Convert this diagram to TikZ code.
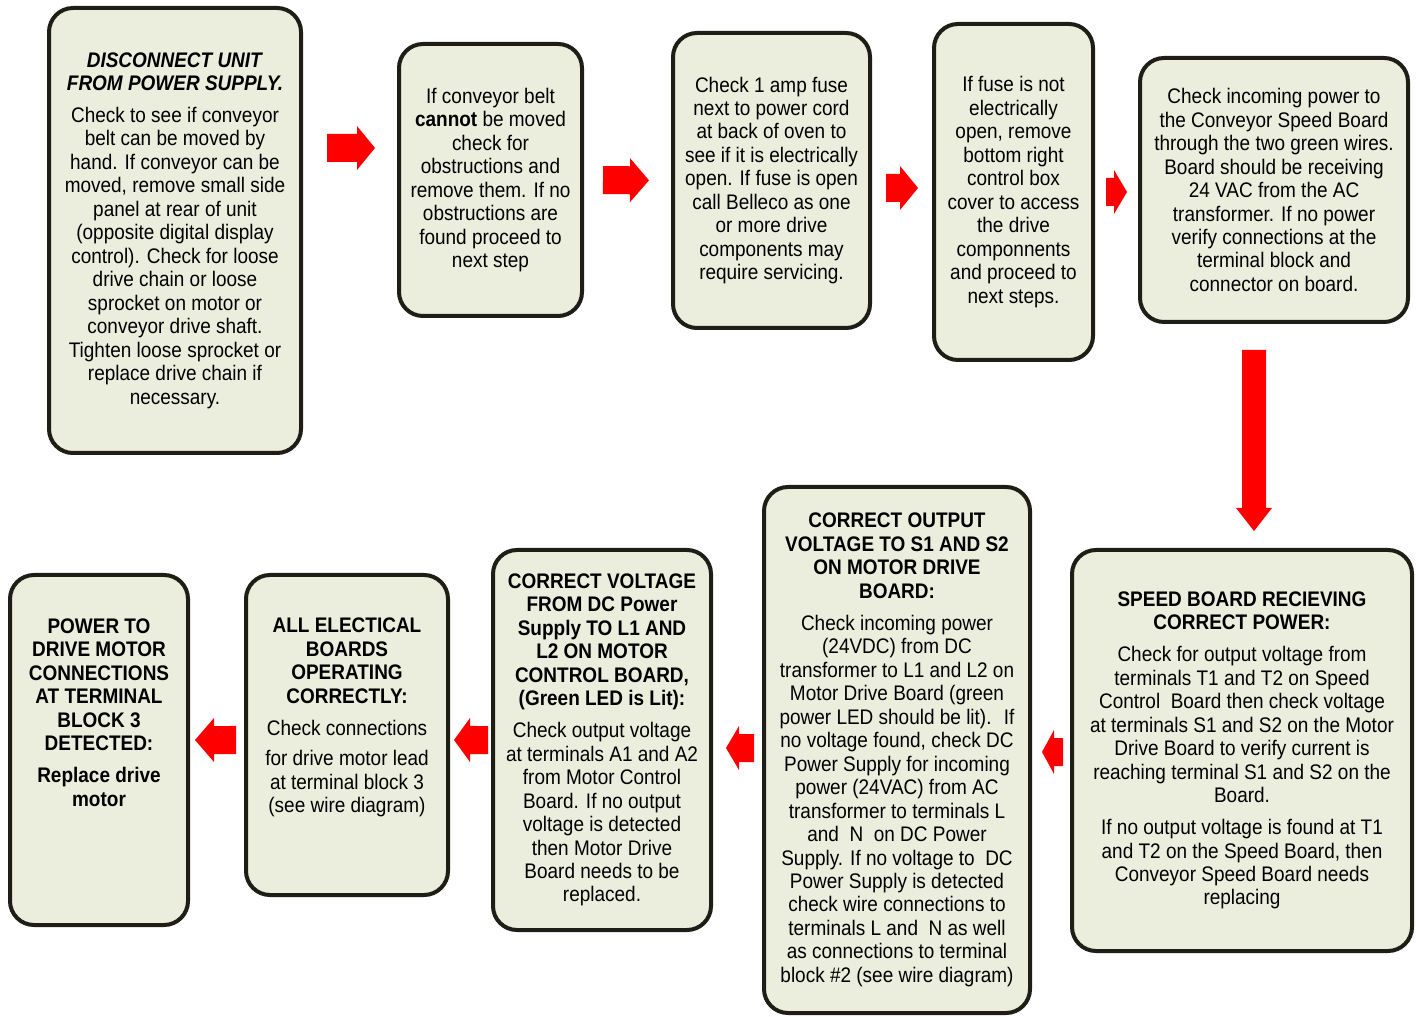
\documentclass[tikz,border=0pt]{standalone}
\usepackage{fontspec}
\setmainfont{Liberation Sans}[FakeStretch=0.9]
\usetikzlibrary{arrows.meta}

\definecolor{boxfill}{HTML}{EBEEDD}
\definecolor{boxline}{HTML}{1E1E16}

\tikzset{
    stepbox/.style={draw=boxline, fill=boxfill, line width=0.1cm, rounded corners=0.6cm,
        align=center, inner sep=0pt, font=\fontsize{15}{16.7}\selectfont},
    flow/.style={draw=red, line width=0.7cm, -{Triangle[width=1.1cm, length=#1, line width=0pt]}},
    flow/.default=0.45cm
}

\begin{document}
\begin{tikzpicture}
        \useasboundingbox (0,0) rectangle (35.4,25.4);

        % top row

        \node[stepbox, minimum width=6.3cm, minimum height=11.125cm] (b1) at (4.375,19.6375)
            {\textbf{\textit{DISCONNECT UNIT}}\\\textbf{\textit{FROM POWER SUPPLY.}}\\[6pt]
             Check to see if conveyor\\belt can be moved by\\hand. If conveyor can be\\moved, remove small side\\panel at rear of unit\\(opposite digital display\\control). Check for loose\\drive chain or loose\\sprocket on motor or\\conveyor drive shaft.\\Tighten loose sprocket or\\replace drive chain if\\necessary.};
        \node[stepbox, minimum width=4.575cm, minimum height=6.8cm] (b2) at (12.2625,20.9)
            {If conveyor belt\\\textbf{cannot} be moved\\check for\\obstructions and\\remove them. If no\\obstructions are\\found proceed to\\next step};
        \node[stepbox, minimum width=4.925cm, minimum height=7.375cm] (b3) at (19.2875,20.8875)
            {Check 1 amp fuse\\next to power cord\\at back of oven to\\see if it is electrically\\open. If fuse is open\\call Belleco as one\\or more drive\\components may\\require servicing.};
        \node[stepbox, minimum width=3.975cm, minimum height=8.4cm] (b4) at (25.3375,20.6)
            {If fuse is not\\electrically\\open, remove\\bottom right\\control box\\cover to access\\the drive\\componnents\\and proceed to\\next steps.};
        \node[stepbox, minimum width=6.7cm, minimum height=6.6cm] (b5) at (31.85,20.65)
            {Check incoming power to\\the Conveyor Speed Board\\through the two green wires.\\Board should be receiving\\24 VAC from the AC\\transformer. If no power\\verify connections at the\\terminal block and\\connector on board.};

        % bottom row

        \node[stepbox, minimum width=8.5cm, minimum height=10.025cm] (b6) at (31.05,6.6375)
            {\textbf{SPEED BOARD RECIEVING}\\\textbf{CORRECT POWER:}\\[6pt]
             Check for output voltage from\\terminals T1 and T2 on Speed\\Control~ Board then check voltage\\at terminals S1 and S2 on the Motor\\Drive Board to verify current is\\reaching terminal S1 and S2 on the\\Board.\\[6pt]
             If no output voltage is found at T1\\and T2 on the Speed Board, then\\Conveyor Speed Board needs\\replacing};
        \node[stepbox, minimum width=6.65cm, minimum height=13.15cm] (b7) at (22.425,6.65)
            {\textbf{CORRECT OUTPUT}\\\textbf{VOLTAGE TO S1 AND S2}\\\textbf{ON MOTOR DRIVE}\\\textbf{BOARD:}\\[6pt]
             Check incoming power\\(24VDC) from DC\\transformer to L1 and L2 on\\Motor Drive Board (green\\power LED should be lit).~ If\\no voltage found, check DC\\Power Supply for incoming\\power (24VAC) from AC\\transformer to terminals L\\and~ N~ on DC Power\\Supply. If no voltage to~ DC\\Power Supply is detected\\check wire connections to\\terminals L and~ N as well\\as connections to terminal\\block \#2 (see wire diagram)};
        \node[stepbox, minimum width=5.45cm, minimum height=9.5cm] (b8) at (15.05,6.9)
            {\textbf{CORRECT VOLTAGE}\\\textbf{FROM DC Power}\\\textbf{Supply TO L1 AND}\\\textbf{L2 ON MOTOR}\\\textbf{CONTROL BOARD,}\\\textbf{(Green LED is Lit):}\\[6pt]
             Check output voltage\\at terminals A1 and A2\\from Motor Control\\Board. If no output\\voltage is detected\\then Motor Drive\\Board needs to be\\replaced.};
        \node[stepbox, minimum width=5.05cm, minimum height=8cm] (b9) at (8.675,7.025)
            {\textbf{ALL ELECTICAL}\\\textbf{BOARDS}\\\textbf{OPERATING}\\\textbf{CORRECTLY:}\\[6pt]
             Check connections\\[5pt]for drive motor lead\\at terminal block 3\\(see wire diagram)\\[0.4cm]\mbox{}};
        \node[stepbox, minimum width=4.45cm, minimum height=8.75cm] (b10) at (2.475,6.65)
            {\textbf{POWER TO}\\\textbf{DRIVE MOTOR}\\\textbf{CONNECTIONS}\\\textbf{AT TERMINAL}\\\textbf{BLOCK 3}\\\textbf{DETECTED:}\\[6pt]
             \textbf{Replace drive}\\\textbf{motor}\\[1.3cm]\mbox{}};

        % arrows

        \draw[flow, shorten <=0.6cm, shorten >=0.55cm] ([yshift=2.0625cm]b1.east) -- ([yshift=0.8cm]b2.west);
        \draw[flow=0.475cm, shorten <=0.475cm, shorten >=0.55cm] (b2.east) -- (b3.west);
        \draw[flow, shorten <=0.35cm, shorten >=0.35cm] ([yshift=-0.1875cm]b3.east) -- ([yshift=0.1cm]b4.west);
        \draw[flow=0.325cm, shorten <=0.275cm, shorten >=0.275cm] (b4.east) -- ([yshift=-0.05cm]b5.west);
        \draw[flow=0.575cm, line width=0.6cm, -{Triangle[width=0.9cm, length=0.575cm, line width=0pt]},
            shorten <=0.65cm, shorten >=0.425cm] ([xshift=-0.5cm]b5.south) -- ([xshift=0.3cm]b6.north);
        \draw[flow=0.3cm, shorten <=0.175cm, shorten >=0.25cm] ([yshift=-0.0375cm]b6.west) -- ([yshift=-0.05cm]b7.east);
        \draw[flow=0.325cm, shorten <=0.2cm, shorten >=0.325cm] ([yshift=0.05cm]b7.west) -- ([yshift=-0.2cm]b8.east);
        \draw[flow=0.4cm, shorten <=0.075cm, shorten >=0.1cm] (b8.west) -- ([yshift=-0.125cm]b9.east);
        \draw[flow=0.475cm, shorten <=0.2cm, shorten >=0.125cm] ([yshift=-0.125cm]b9.west) -- ([yshift=0.25cm]b10.east);

\end{tikzpicture}
\end{document}
